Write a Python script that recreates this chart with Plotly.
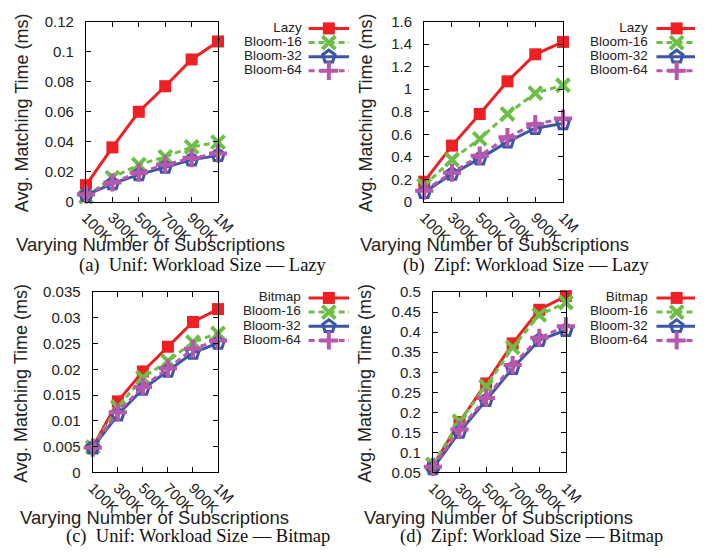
import plotly.graph_objects as go

W, H = 714, 558

categories = ["100K", "300K", "500K", "700K", "900K", "1M"]

# (a) Unif / Lazy
a_lazy = [0.0112, 0.0363, 0.0600, 0.0770, 0.0948, 0.1068]
a_bloom16 = [0.0035, 0.0162, 0.0248, 0.0300, 0.0366, 0.0398]
a_bloom32 = [0.0045, 0.0122, 0.0182, 0.0232, 0.0280, 0.0310]
a_bloom64 = [0.0050, 0.0130, 0.0195, 0.0248, 0.0292, 0.0322]

# (b) Zipf / Lazy
b_lazy = [0.18, 0.50, 0.78, 1.07, 1.31, 1.42]
b_bloom16 = [0.146, 0.375, 0.56, 0.78, 0.965, 1.035]
b_bloom32 = [0.086, 0.247, 0.384, 0.533, 0.654, 0.697]
b_bloom64 = [0.10, 0.26, 0.41, 0.575, 0.69, 0.74]

# (c) Unif / Bitmap
c_bitmap = [0.0049, 0.0138, 0.0196, 0.0244, 0.0292, 0.0317]
c_bloom16 = [0.0049, 0.0127, 0.0184, 0.0216, 0.0253, 0.0270]
c_bloom32 = [0.0048, 0.0112, 0.0162, 0.0197, 0.0232, 0.0251]
c_bloom64 = [0.0048, 0.0117, 0.0166, 0.0202, 0.0240, 0.0256]

# (d) Zipf / Bitmap
d_bitmap = [0.066, 0.176, 0.272, 0.372, 0.456, 0.490]
d_bloom16 = [0.070, 0.178, 0.265, 0.362, 0.443, 0.474]
d_bloom32 = [0.060, 0.151, 0.230, 0.310, 0.380, 0.405]
d_bloom64 = [0.064, 0.157, 0.236, 0.318, 0.386, 0.415]

a_ticks = [0, 0.02, 0.04, 0.06, 0.08, 0.1, 0.12]
a_ticklabels = ["0", "0.02", "0.04", "0.06", "0.08", "0.1", "0.12"]
b_ticks = [0, 0.2, 0.4, 0.6, 0.8, 1.0, 1.2, 1.4, 1.6]
b_ticklabels = ["0", "0.2", "0.4", "0.6", "0.8", "1", "1.2", "1.4", "1.6"]
c_ticks = [0, 0.005, 0.01, 0.015, 0.02, 0.025, 0.03, 0.035]
c_ticklabels = ["0", "0.005", "0.01", "0.015", "0.02", "0.025", "0.03", "0.035"]
d_ticks = [0.05, 0.1, 0.15, 0.2, 0.25, 0.3, 0.35, 0.4, 0.45, 0.5]
d_ticklabels = ["0.05", "0.1", "0.15", "0.2", "0.25", "0.3", "0.35", "0.4", "0.45", "0.5"]

x_title = "Varying Number of Subscriptions"
y_title = "Avg. Matching Time (ms)"
captions = ["(a)  Unif: Workload Size — Lazy", "(b)  Zipf: Workload Size — Lazy",
            "(c)  Unif: Workload Size — Bitmap", "(d)  Zipf: Workload Size — Bitmap"]

RED, GREEN, BLUE, MAG = "#ee2024", "#6cbf44", "#3a56a6", "#b757ad"

styles = [
    dict(color=RED, dash="solid", symbol="square", size=12, lw=0),
    dict(color=GREEN, dash="6px,4px", symbol="x-thin-open", size=13, lw=4),
    dict(color=BLUE, dash="solid", symbol="pentagon-open", size=13, lw=3),
    dict(color=MAG, dash="6px,4px", symbol="cross-thin-open", size=13, lw=4),
]

SANS = "Liberation Sans, Arial, sans-serif"
SERIF = "Liberation Serif, Times New Roman, serif"


def px(x):
    return x / W


def py(y):
    return 1 - y / H


panels = [
    dict(name=["Lazy", "Bloom-16", "Bloom-32", "Bloom-64"], data=[a_lazy, a_bloom16, a_bloom32, a_bloom64],
         box=(82, 219, 13, 199), yr=[0, 0.12], tv=a_ticks, tt=a_ticklabels,
         leg=(306, 313, 355, 20), ytit=(15, 107), xtit=(149, 243), cap=(203, 265)),
    dict(name=["Lazy", "Bloom-16", "Bloom-32", "Bloom-64"], data=[b_lazy, b_bloom16, b_bloom32, b_bloom64],
         box=(433, 577, 13, 199), yr=[0, 1.6], tv=b_ticks, tt=b_ticklabels,
         leg=(665, 674, 720, 20), ytit=(372, 107), xtit=(506, 243), cap=(539, 265)),
    dict(name=["Bitmap", "Bloom-16", "Bloom-32", "Bloom-64"], data=[c_bitmap, c_bloom16, c_bloom32, c_bloom64],
         box=(89, 219, 292, 478), yr=[0, 0.035], tv=c_ticks, tt=c_ticklabels,
         leg=(305, 313, 355, 298), ytit=(15, 386), xtit=(153, 524), cap=(198, 544)),
    dict(name=["Bitmap", "Bloom-16", "Bloom-32", "Bloom-64"], data=[d_bitmap, d_bloom16, d_bloom32, d_bloom64],
         box=(442, 580, 292, 478), yr=[0.05, 0.5], tv=d_ticks, tt=d_ticklabels,
         leg=(665, 674, 720, 298), ytit=(372, 386), xtit=(510, 524), cap=(544, 544)),
]

fig = go.Figure()
annotations = []
TICKFONT = dict(family=SANS, size=15, color="#222")
layout = {}
LEG_STEP = 14.6

for i, p in enumerate(panels, start=1):
    xa = "x" if i == 1 else f"x{i}"
    ya = "y" if i == 1 else f"y{i}"
    for name, vals, st in zip(p["name"], p["data"], styles):
        fig.add_trace(go.Scatter(
            x=categories, y=vals, xaxis=xa, yaxis=ya, mode="lines+markers", name=name,
            showlegend=False, cliponaxis=False,
            line=dict(color=st["color"], width=3, dash=st["dash"]),
            marker=dict(symbol=st["symbol"], size=st["size"], color=st["color"],
                        line=dict(color=st["color"], width=st["lw"])),
        ))
    x0, x1, y0, y1 = p["box"]
    layout["xaxis" if i == 1 else f"xaxis{i}"] = dict(
        domain=[px(x0), px(x1)], anchor=ya, type="category", range=[0, 5],
        showline=True, linecolor="black", linewidth=1.2, mirror="allticks",
        ticks="inside", ticklen=5, tickcolor="black", tickangle=45,
        tickfont=TICKFONT, showgrid=False, zeroline=False, fixedrange=True)
    layout["yaxis" if i == 1 else f"yaxis{i}"] = dict(
        domain=[py(y1), py(y0)], anchor=xa, range=p["yr"],
        tickvals=p["tv"], ticktext=p["tt"],
        showline=True, linecolor="black", linewidth=1.2, mirror="allticks",
        ticks="inside", ticklen=5, tickcolor="black", ticklabelstandoff=8,
        tickfont=TICKFONT, showgrid=False, zeroline=False, fixedrange=True)

    # legend (text on left, sample on right)
    tx, lx0, lx1, ly = p["leg"]
    rows = [ly + k * LEG_STEP for k in range(len(p["name"]))]
    fig.add_trace(go.Scatter(x=[tx] * len(rows), y=rows, xaxis="x5", yaxis="y5", mode="text",
                             text=p["name"], textposition="middle left", showlegend=False,
                             hoverinfo="skip", cliponaxis=False,
                             textfont=dict(family=SANS, size=13.5, color="#222")))
    for yy, st in zip(rows, styles):
        fig.add_trace(go.Scatter(x=[lx0, lx1], y=[yy, yy], xaxis="x5", yaxis="y5", mode="lines",
                                 showlegend=False, hoverinfo="skip",
                                 line=dict(color=st["color"], width=3, dash=st["dash"])))
        fig.add_trace(go.Scatter(x=[lx0 + 21], y=[yy], xaxis="x5", yaxis="y5", mode="markers",
                                 showlegend=False, hoverinfo="skip",
                                 marker=dict(symbol=st["symbol"], size=st["size"], color=st["color"],
                                             line=dict(color=st["color"], width=st["lw"]))))
    annotations.append(dict(x=px(p["ytit"][0]), y=py(p["ytit"][1]), xref="paper", yref="paper",
                            text=y_title, textangle=-90, showarrow=False, xanchor="center", yanchor="middle",
                            font=dict(family=SANS, size=18, color="#222")))
    annotations.append(dict(x=px(p["xtit"][0]), y=py(p["xtit"][1]), xref="paper", yref="paper",
                            text=x_title, showarrow=False, xanchor="center", yanchor="middle",
                            font=dict(family=SANS, size=18.5, color="#222")))
    annotations.append(dict(x=px(p["cap"][0]), y=py(p["cap"][1]), xref="paper", yref="paper",
                            text=captions[i - 1], showarrow=False, xanchor="center", yanchor="middle",
                            font=dict(family=SERIF, size=18.5, color="#111")))

layout["xaxis5"] = dict(domain=[0, 1], anchor="y5", range=[0, W], visible=False, fixedrange=True)
layout["yaxis5"] = dict(domain=[0, 1], anchor="x5", range=[H, 0], visible=False, fixedrange=True)

fig.update_layout(
    width=W, height=H, margin=dict(l=0, r=0, t=0, b=0),
    paper_bgcolor="white", plot_bgcolor="rgba(0,0,0,0)",
    showlegend=False, annotations=annotations, **layout)

fig.write_html("out.html")
